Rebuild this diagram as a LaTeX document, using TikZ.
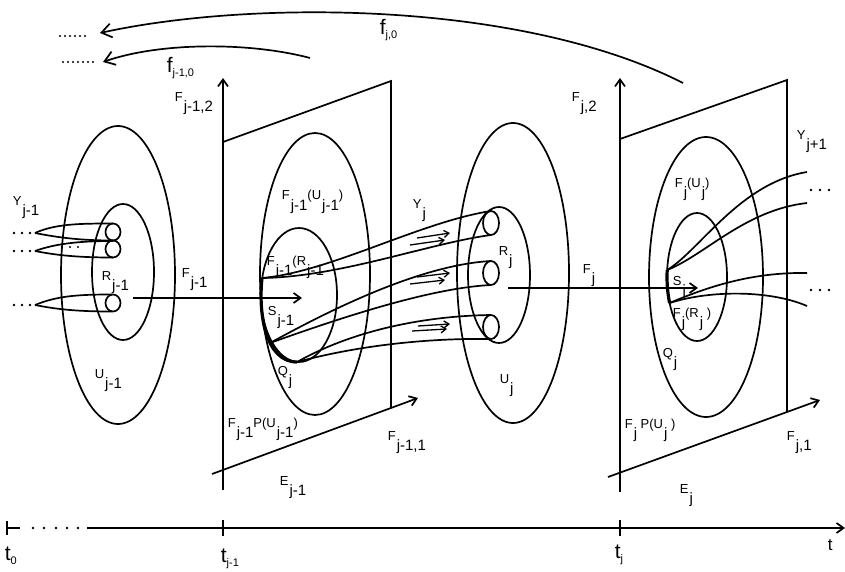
\documentclass[tikz,border=0pt]{standalone}
\usepackage{fontspec}
\setmainfont{Liberation Sans}
\usetikzlibrary{arrows.meta,positioning}
\newcommand\lsub[1]{\kern1pt\raisebox{-10pt}{\fontsize{15}{15}\selectfont #1}}
\newcommand\lsm[1]{\raisebox{-4pt}{\fontsize{11}{11}\selectfont #1}}

\begin{document}
\begin{tikzpicture}[x=1pt,y=-1pt,line width=1.7pt,lab/.style={font=\fontsize{13}{15}\selectfont,inner sep=0pt,anchor=base west},tlab/.style={font=\fontsize{21}{21}\selectfont,inner sep=0pt,anchor=base west},ar/.style={-{Straight Barb[length=7pt,width=10pt]}},bigar/.style={-{Straight Barb[length=10pt,width=14pt]}},tinyar/.style={-{Straight Barb[length=5pt,width=7pt]},line width=1.3pt},sline/.style={line width=3.2pt}]
\useasboundingbox (0,0) rectangle (845,572);

\coordinate (t0) at (7,528);
\coordinate (tend) at (845,528);
\draw (7,521)--(7,535);\draw (t0)--(20,528);
\foreach \x in {33,44,56,67,78} \fill (\x,528) circle[radius=1.4];
\draw[ar] (87,528)--(tend);
\draw (223,520)--(223,536);\draw (620,520)--(620,536);

\draw[ar] (223,490)--(223,78);
\draw (223,142)--(391,81)--(391,408);
\draw[ar] (212,474)--(418,398);
\draw[ar] (620,492)--(620,78);
\draw (620,139)--(787,80)--(787,412);
\draw[ar] (608,477)--(820,400);

\draw (118,275) ellipse[x radius=57,y radius=149];
\draw (123,272) ellipse[x radius=31,y radius=68];
\draw (315,274) ellipse[x radius=55,y radius=141];
\draw (299,295) ellipse[x radius=38,y radius=67];
\draw (513,273) ellipse[x radius=56,y radius=150];
\draw (499,275) ellipse[x radius=31,y radius=68];
\draw (706,277) ellipse[x radius=57,y radius=140];
\draw (697,277) ellipse[x radius=30,y radius=64];

\foreach \y in {232,249,303} \draw (113,\y) ellipse[x radius=7.5,y radius=8.5];
\coordinate (ya) at (35,233);\coordinate (yb) at (35,251);\coordinate (yc) at (35,305);
\draw (ya) .. controls +(20,-9) and +(-35,0) .. (113,223.5);
\draw (ya) .. controls +(25,5) and +(-30,0) .. (113,240.5);
\draw (yb) .. controls +(22,-8) and +(-30,0) .. (113,241);
\draw (yb) .. controls +(25,5) and +(-30,0) .. (113,257.5);
\draw (yc) .. controls +(22,-9) and +(-35,0) .. (112,294.5);
\draw (yc) .. controls +(25,5) and +(-30,0) .. (112,311.5);
\foreach \x in {14,22,30} {\fill (\x,233) circle[radius=1.4];\fill (\x,251) circle[radius=1.4];\fill (\x,305) circle[radius=1.4];}
\foreach \x in {62,70,78} \fill (\x,247) circle[radius=1.2];

\foreach \y in {223,273,327} \draw (491,\y) ellipse[x radius=8,y radius=12];
\coordinate (sa) at (262,278);\coordinate (sb) at (270,343);\coordinate (qj) at (297,362);
\draw[sline] (sa) .. controls (258,315) and (266,362) .. (qj);
\draw (sa) .. controls (330,272) and (420,222) .. (491,211);
\draw (sa) .. controls (340,277) and (430,243) .. (491,235);
\draw (sb) .. controls (330,310) and (420,265) .. (491,261);
\draw (sb) .. controls (340,318) and (430,288) .. (491,285);
\draw (qj) .. controls (350,332) and (420,316) .. (491,315);
\draw (qj) .. controls (360,345) and (430,338) .. (491,339);
\draw[tinyar] (417,238)--(450,233);\draw[tinyar] (410,245)--(445,240);
\draw[tinyar] (417,277)--(450,273);\draw[tinyar] (410,284)--(445,280);
\draw[tinyar] (418,326)--(450,324);\draw[tinyar] (412,331)--(447,329);

\coordinate (sja) at (667.2,270);\coordinate (sjb) at (669.6,303);
\draw[sline] (sja) arc[start angle=186.3,end angle=156,x radius=30,y radius=64];
\draw (sja) .. controls (700,250) and (740,183) .. (807,172);
\draw (sja) .. controls (705,255) and (745,210) .. (807,203);
\draw (sjb) .. controls (705,288) and (750,272) .. (807,273);
\draw (sjb) .. controls (710,290) and (770,290) .. (807,306);
\foreach \x in {811,820,829} {\fill (\x,190) circle[radius=1.4];\fill (\x,290) circle[radius=1.4];}

\draw[ar] (133,298)--(302,298);
\draw[ar] (508,288)--(698,288);

\draw[bigar] (683,83) .. controls (520,0) and (250,0) .. (100,33);
\draw[bigar] (310,58) .. controls (250,42) and (160,42) .. (103,62);
\foreach \x in {60,65,...,88} \fill (\x,36) circle[radius=1.1];
\foreach \x in {63,68,...,93} \fill (\x,62) circle[radius=1.1];

\node[lab] (yjm) at (12,205) {Y\lsub{j-1}};
\node[lab] (rjm) at (101,280) {R\lsub{j-1}};
\node[lab] (ujm) at (94,378) {U\lsub{j-1}};
\node[lab] (fjm) at (181,277) {F\lsub{j-1}};
\node[lab] (fjm2) at (174,102) {F\lsub{j-1,2}};
\node[lab] (fujm) at (281,200) {F\lsub{j-1}(U\lsub{j-1})};
\node[lab] (frjm) at (266,265) {F\lsub{j-1}(R\lsub{j-1}};
\node[lab] (sjm) at (267,315) {S\lsub{j-1}};
\node[lab] (qja) at (277,375) {Q\lsub{j}};
\node[lab] (yj) at (412,208) {Y\lsub{j}};
\node[lab] (rj) at (498,255) {R\lsub{j}};
\node[lab] (uj) at (499,383) {U\lsub{j}};
\node[lab] (fj) at (582,273) {F\lsub{j}};
\node[lab] (fj2) at (571,102) {F\lsub{j,2}};
\node[lab] (fuj) at (674,187) {F\lsub{j}(U\lsub{j})};
\node[lab] (sj) at (672,285) {S\lsub{j}};
\node[lab] (frj) at (672,317) {F\lsub{j}(R\lsub{j} )};
\node[lab] (qjb) at (662,357) {Q\lsub{j}};
\node[lab] (yjp) at (796,140) {Y\lsub{j+1}};
\node[lab] (fpjm) at (227,427) {F\lsub{j-1}P(U\lsub{j-1})};
\node[lab] (fjm1) at (387,440) {F\lsub{j-1,1}};
\node[lab] (ejm) at (279,485) {E\lsub{j-1}};
\node[lab] (fpj) at (624,428) {F\lsub{j} P(U\lsub{j} )};
\node[lab] (fj1) at (786,440) {F\lsub{j,1}};
\node[lab] (ej) at (679,493) {E\lsub{j}};
\node[tlab] (fj0) at (379,35) {f\lsm{j,0}};
\node[tlab] (fjm0) at (166,73) {f\lsm{j-1,0}};
\node[tlab] (lt0) at (4,560) {t\lsm{0}};
\node[tlab] (ltjm) at (220,562) {t\lsm{j-1}};
\node[tlab] (ltj) at (614,558) {t\lsm{j}};
\node[tlab,font=\fontsize{17}{17}\selectfont] (lt) at (827,550) {t};
\end{tikzpicture}
\end{document}
